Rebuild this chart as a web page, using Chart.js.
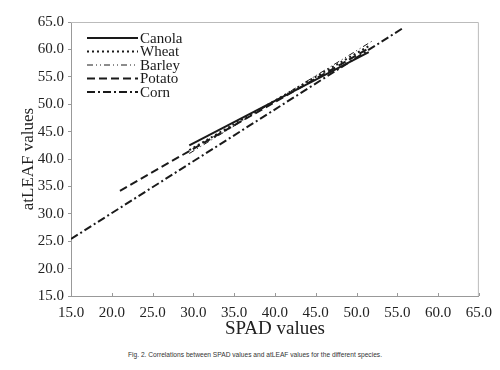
<!DOCTYPE html>
<html>
<head>
<meta charset="utf-8">
<script src="https://cdn.jsdelivr.net/npm/chart.js@4/dist/chart.umd.min.js"></script>
<style>
  html, body { margin: 0; padding: 0; background: #fff; }
  #wrap { position: relative; width: 500px; height: 370px; }
  #box { position: absolute; left: 0; top: 0; width: 500px; height: 340px; }
  #caption {
    position: absolute; left: 0; width: 510px; top: 350px; line-height: 10px;
    text-align: center; font: 8px "Liberation Sans", sans-serif; color: #333;
    transform: scaleX(0.83); transform-origin: 255px 0;
  }
</style>
</head>
<body>
<div id="wrap">
  <div id="box"><canvas id="chart"></canvas></div>
  <div id="caption">Fig. 2. Correlations between SPAD values and atLEAF values for the different species.</div>
</div>
<script>
// Fitted regression lines (start and end points)
var speciesNames = ['Canola', 'Wheat', 'Barley', 'Potato', 'Corn'];
var canolaSpad = [29.5, 51.5];
var canolaAtleaf = [42.5, 59.5];
var wheatSpad = [29.5, 51.5];
var wheatAtleaf = [41.6, 60.6];
var barleySpad = [29.5, 52.0];
var barleyAtleaf = [41.0, 61.6];
var potatoSpad = [21.0, 51.5];
var potatoAtleaf = [34.2, 60.2];
var cornSpad = [15.0, 55.7];
var cornAtleaf = [25.4, 63.9];
var axisTicks = [15, 20, 25, 30, 35, 40, 45, 50, 55, 60, 65];

(function() {
    'use strict';

    var serif = '"Liberation Serif", "Times New Roman", serif';

    function pts(xs, ys) {
        return xs.map(function(x, i) { return { x: x, y: ys[i] }; });
    }

    var styles = [
        { dash: [], width: 2 },
        { dash: [2, 3], width: 2 },
        { dash: [6, 3, 1, 3, 1, 3], width: 1 },
        { dash: [8, 4], width: 2 },
        { dash: [8, 3, 2, 3], width: 2 }
    ];
    var series = [
        pts(canolaSpad, canolaAtleaf),
        pts(wheatSpad, wheatAtleaf),
        pts(barleySpad, barleyAtleaf),
        pts(potatoSpad, potatoAtleaf),
        pts(cornSpad, cornAtleaf)
    ];

    var datasets = speciesNames.map(function(name, i) {
        return {
            label: name,
            data: series[i],
            showLine: true,
            borderColor: '#1a1a1a',
            borderWidth: styles[i].width,
            borderDash: styles[i].dash,
            pointRadius: 0,
            fill: false
        };
    });

    // legend drawn inside the plot, top-left
    var insideLegend = {
        id: 'insideLegend',
        afterDraw: function(chart) {
            var ctx = chart.ctx;
            var x0 = 87, y0 = 38, step = 13.5;
            ctx.save();
            ctx.font = '15px ' + serif;
            ctx.fillStyle = '#1a1a1a';
            ctx.textBaseline = 'middle';
            chart.data.datasets.forEach(function(ds, i) {
                var y = y0 + i * step;
                ctx.beginPath();
                ctx.setLineDash(ds.borderDash);
                ctx.lineWidth = ds.borderWidth;
                ctx.strokeStyle = ds.borderColor;
                ctx.moveTo(x0, y);
                ctx.lineTo(x0 + 51, y);
                ctx.stroke();
                ctx.setLineDash([]);
                ctx.fillText(ds.label, x0 + 53, y + 1);
            });
            ctx.restore();
        }
    };

    // light frame on top and right, x ticks pointing inward
    var frame = {
        id: 'frame',
        afterDraw: function(chart) {
            var a = chart.chartArea, ctx = chart.ctx, xs = chart.scales.x;
            ctx.save();
            ctx.strokeStyle = '#bbb';
            ctx.lineWidth = 1;
            ctx.beginPath();
            ctx.moveTo(a.left, a.top + 0.5);
            ctx.lineTo(a.right - 0.5, a.top + 0.5);
            ctx.lineTo(a.right - 0.5, a.bottom);
            ctx.stroke();
            ctx.strokeStyle = '#999';
            ctx.beginPath();
            axisTicks.forEach(function(v) {
                var px = Math.round(xs.getPixelForValue(v)) + 0.5;
                ctx.moveTo(px, a.bottom);
                ctx.lineTo(px, a.bottom - 3);
            });
            ctx.stroke();
            ctx.restore();
        }
    };

    var tickStyle = { font: { family: serif, size: 15 }, color: '#222' };

    new Chart(document.getElementById('chart'), {
        type: 'scatter',
        data: { datasets: datasets },
        options: {
            responsive: true,
            maintainAspectRatio: false,
            animation: false,
            layout: { padding: { top: 22, right: 19, left: 0, bottom: 0 } },
            plugins: {
                legend: { display: false },
                tooltip: { enabled: false }
            },
            scales: {
                x: {
                    type: 'linear',
                    min: 15, max: 65,
                    afterBuildTicks: function(axis) {
                        axis.ticks = axisTicks.map(function(v) { return { value: v }; });
                    },
                    afterFit: function(axis) { axis.height = 44; },
                    grid: { drawOnChartArea: false, drawTicks: false, color: '#999' },
                    border: { color: '#999' },
                    ticks: Object.assign({ padding: 8, maxRotation: 0,
                        callback: function(v) { return v.toFixed(1); } }, tickStyle),
                    title: { display: true, text: 'SPAD values', padding: { top: 0, bottom: 0 },
                        font: { family: serif, size: 19 }, color: '#222' }
                },
                y: {
                    type: 'linear',
                    min: 15, max: 65,
                    afterBuildTicks: function(axis) {
                        axis.ticks = axisTicks.map(function(v) { return { value: v }; });
                    },
                    afterFit: function(axis) { axis.width = 71; },
                    grid: { drawOnChartArea: false, tickLength: 3, color: '#999' },
                    border: { color: '#999' },
                    ticks: Object.assign({ padding: 4,
                        callback: function(v) { return v.toFixed(1); } }, tickStyle),
                    title: { display: true, text: 'atLEAF values', padding: { top: 18, bottom: 0 },
                        font: { family: serif, size: 17 }, color: '#222' }
                }
            }
        },
        plugins: [insideLegend, frame]
    });
})();
</script>
</body>
</html>
